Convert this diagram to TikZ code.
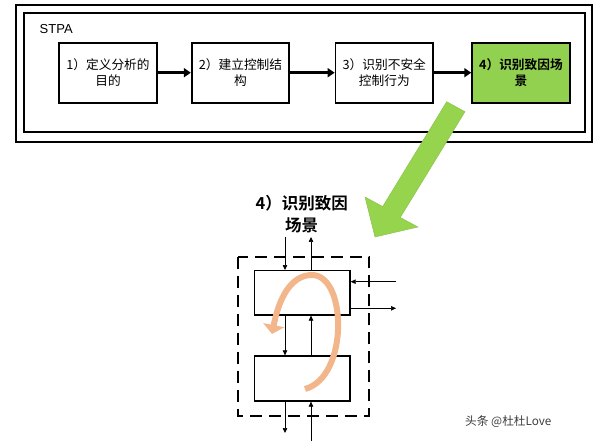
\documentclass[tikz,border=0pt]{standalone}
\usepackage{fontspec}
\setmainfont{Liberation Sans}
\newfontfamily\cjk{Noto Sans CJK SC}[BoldFont={Noto Sans CJK SC Bold}]
\usetikzlibrary{arrows.meta}
\definecolor{boxgreen}{HTML}{92D050}
\definecolor{arrgreen}{HTML}{96D44E}
\definecolor{peach}{HTML}{F2B68A}
\definecolor{wmgray}{HTML}{3C3C3C}
\begin{document}
\begin{tikzpicture}[x=1pt,y=-1pt,
  frame/.style={draw=black,line width=2.2pt},
  stepbox/.style={draw=black,line width=1.8pt,minimum width=97.5pt,minimum height=60pt,
    inner sep=0pt,align=center,font=\cjk\fontsize{12.7}{15.5}\selectfont},
  bigarrow/.style={draw=black,line width=3pt,-{Triangle[length=7pt,width=9pt]}},
  subbox/.style={draw=black,line width=1.3pt,minimum width=95.7pt,inner sep=0pt},
  sarrow/.style={draw=black,line width=0.7pt,-{Triangle[length=5pt,width=4.5pt]}}]
\useasboundingbox (0,0) rectangle (595,441);
% frames
\draw[frame] (15.7,5) rectangle (591.7,141.7);
\draw[frame] (24,12.7) rectangle (585,132);
\node[anchor=west,font=\fontsize{13}{15}\selectfont,inner sep=0pt] (stpa) at (39.5,29) {STPA};
% steps
\node[stepbox] (b1) at (108,72.7) {1）定义分析的\\目的};
\node[stepbox] (b2) at (240.5,72.7) {2）建立控制结\\构};
\node[stepbox] (b3) at (384.3,72.7) {3）识别不安全\\控制行为};
\node[stepbox,fill=boxgreen,font=\cjk\bfseries\fontsize{12.7}{15.5}\selectfont] (b4) at (520.9,72.7) {4）识别致因场\\景};
\draw[bigarrow] (b1) -- (b2);
\draw[bigarrow] (b2) -- (b3);
\draw[bigarrow] (b3) -- (b4);
% big green arrow
\fill[arrgreen,draw=arrgreen!90!black,line width=0.4pt]
  (446.7,101.7) -- (465,111.7) -- (400.3,217.5) -- (418,227) -- (375,237)
  -- (365,197) -- (382.7,206.5) -- cycle;
% lower diagram
\node[align=center,font=\cjk\bfseries\fontsize{16.5}{22}\selectfont,inner sep=0pt] (title) at (301.7,214) {4）识别致因\\场景};
\draw[black,line width=1.8pt,dash pattern=on 12pt off 7pt] (238.3,256.7) rectangle (369,415.7);
\node[subbox,minimum height=44.3pt] (tb) at (302.2,292.8) {};
\node[subbox,minimum height=45pt] (bb) at (302.2,378.5) {};
\draw[sarrow] ([xshift=-17.2pt]tb.south) -- ([xshift=-17.2pt]bb.north);
\draw[sarrow] ([xshift=8.8pt]bb.north) -- ([xshift=8.8pt]tb.south);
\coordinate (in1) at (285,237);
\coordinate (out1) at (311,237);
\coordinate (in2) at (396,281.7);
\coordinate (out2) at (396,308.3);
\coordinate (out3) at (285,433);
\coordinate (in3) at (311,441);
\draw[sarrow] (in1) -- (in1 |- tb.north);
\draw[sarrow] (out1 |- tb.north) -- (out1);
\draw[sarrow] (in2) -- (in2 -| tb.east);
\draw[sarrow] (out2 -| tb.east) -- (out2);
\draw[sarrow] (out3 |- bb.south) -- (out3);
\draw[sarrow] (in3) -- (in3 |- bb.south);
% orange loop
\draw[peach,line width=6pt,-{Triangle[length=9pt,width=21pt]}]
  (305,389) .. controls (349,377) and (347,275) .. (312,275)
  .. controls (291,275) and (279,298) .. (272,334);
% watermark
\node[anchor=west,text=wmgray,font=\cjk\fontsize{11.7}{14}\selectfont,inner sep=0pt] (wm) at (465,421.7) {头条 @杜杜Love};
\end{tikzpicture}
\end{document}
